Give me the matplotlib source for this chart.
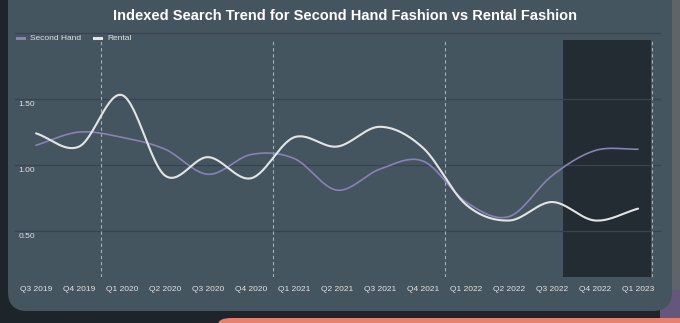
import numpy as np
import matplotlib
matplotlib.use("Agg")
import matplotlib.pyplot as plt
from matplotlib.patches import FancyBboxPatch, Rectangle
from matplotlib.lines import Line2D

plt.rcParams['font.family'] = ['Liberation Sans', 'DejaVu Sans']

quarters = ["Q3 2019", "Q4 2019", "Q1 2020", "Q2 2020", "Q3 2020", "Q4 2020",
            "Q1 2021", "Q2 2021", "Q3 2021", "Q4 2021", "Q1 2022", "Q2 2022",
            "Q3 2022", "Q4 2022", "Q1 2023"]
second_hand = [1.15, 1.25, 1.21, 1.12, 0.93, 1.08, 1.05, 0.81, 0.97, 1.03,
               0.72, 0.61, 0.92, 1.11, 1.12]
rental = [1.24, 1.14, 1.53, 0.92, 1.06, 0.90, 1.21, 1.14, 1.29, 1.13,
          0.70, 0.58, 0.72, 0.58, 0.67]
y_ticks = [0.50, 1.00, 1.50]
title = "Indexed Search Trend for Second Hand Fashion vs Rental Fashion"

W, H = 680, 323
fig = plt.figure(figsize=(W / 100, H / 100), dpi=100)
fig.patch.set_facecolor("#1d252a")


def fx(px):
    return px / W


def fy(py):
    return 1 - py / H


# right side blurred background
fig.add_artist(Rectangle((fx(660), 0), fx(20), 1, transform=fig.transFigure,
                         facecolor="#5e6468", edgecolor="none", zorder=0))
fig.add_artist(Rectangle((fx(660), 0), fx(20), fy(290), transform=fig.transFigure,
                         facecolor="#6a4f8a", edgecolor="none", zorder=0, alpha=0.6))
# bottom salmon bar
fig.add_artist(FancyBboxPatch((fx(218), fy(340)), fx(480), fy(318) - fy(340),
                              boxstyle="round,pad=0,rounding_size=0.02",
                              transform=fig.transFigure, facecolor="#e6806f",
                              edgecolor="none", zorder=0))
# card
fig.add_artist(FancyBboxPatch((fx(8), fy(311)), fx(664), fy(-20) - fy(311),
                              boxstyle="round,pad=0,rounding_size=0.028",
                              mutation_aspect=W / H,
                              transform=fig.transFigure, facecolor="#45555f",
                              edgecolor="none", zorder=1))

ax = fig.add_axes([fx(15), fy(277), fx(660) - fx(15), fy(32) - fy(277)])
ax.set_zorder(2)
ax.patch.set_alpha(0)
x = np.arange(len(quarters))
ax.set_xlim(-0.49, 14.51)
ax.set_ylim(0.152, 2.008)
for s in ax.spines.values():
    s.set_visible(False)

# shaded forecast-like region
ax.add_patch(Rectangle((12.26, 0.152), 14.30 - 12.26, 1.947 - 0.152,
                       facecolor="#232c32", edgecolor="none", zorder=1))

# gridlines
for v in y_ticks + [2.0]:
    ax.axhline(v, color="#37444c", lw=0.9, zorder=2, clip_on=False)

# dashed vertical lines
for xv in [1.5, 5.5, 9.5, 14.33]:
    ax.vlines(xv, 0.152, 1.947, colors="#a9b1b6", linestyles=(0, (3, 2.5)),
              lw=0.8, zorder=3)


def catmull_rom(xs, ys, n=30):
    xs = np.asarray(xs, float)
    ys = np.asarray(ys, float)
    px = np.concatenate([[2 * xs[0] - xs[1]], xs, [2 * xs[-1] - xs[-2]]])
    py = np.concatenate([[2 * ys[0] - ys[1]], ys, [2 * ys[-1] - ys[-2]]])
    ox, oy = [], []
    t = np.linspace(0, 1, n, endpoint=False)
    for i in range(1, len(px) - 2):
        p0, p1, p2, p3 = py[i - 1], py[i], py[i + 1], py[i + 2]
        yy = 0.5 * ((2 * p1) + (-p0 + p2) * t + (2 * p0 - 5 * p1 + 4 * p2 - p3) * t ** 2
                    + (-p0 + 3 * p1 - 3 * p2 + p3) * t ** 3)
        xx = px[i] + (px[i + 1] - px[i]) * t
        ox.append(xx)
        oy.append(yy)
    ox.append([xs[-1]])
    oy.append([ys[-1]])
    return np.concatenate(ox), np.concatenate(oy)


sx, sy = catmull_rom(x, second_hand)
rx, ry = catmull_rom(x, rental)
purple = "#8782b4"
white = "#e2e5e6"
ax.plot(sx, sy, color=purple, lw=1.2, zorder=4, solid_capstyle="round")
ax.plot(rx, ry, color=white, lw=1.5, zorder=5, solid_capstyle="round")

ax.set_xticks(x)
ax.set_xticklabels(quarters, fontsize=6, color="#dfe3e5")
ax.tick_params(axis="x", length=0, pad=6.5)
ax.set_yticks([])

for v in y_ticks:
    ax.annotate(f"{v:.2f}", xy=(0, v), xycoords=("axes fraction", "data"),
                xytext=(2.3, -3.8), textcoords="offset points",
                ha="left", va="center", fontsize=6, color="#dfe3e5", zorder=6)

fig.text(fx(345), fy(16), title, ha="center", va="center", fontsize=10.5,
         fontweight="bold", color="white", zorder=5)

# legend
fig.add_artist(Line2D([fx(17), fx(24)], [fy(38), fy(38)], color=purple, lw=2.2,
                      transform=fig.transFigure, zorder=5))
fig.text(fx(30), fy(38), "Second Hand", ha="left", va="center", fontsize=6,
         color="#dfe3e5", zorder=5)
fig.add_artist(Line2D([fx(94), fx(101)], [fy(38), fy(38)], color=white, lw=2.2,
                      transform=fig.transFigure, zorder=5))
fig.text(fx(107), fy(38), "Rental", ha="left", va="center", fontsize=6,
         color="#dfe3e5", zorder=5)

fig.savefig("out.png", dpi=100, facecolor=fig.get_facecolor())
